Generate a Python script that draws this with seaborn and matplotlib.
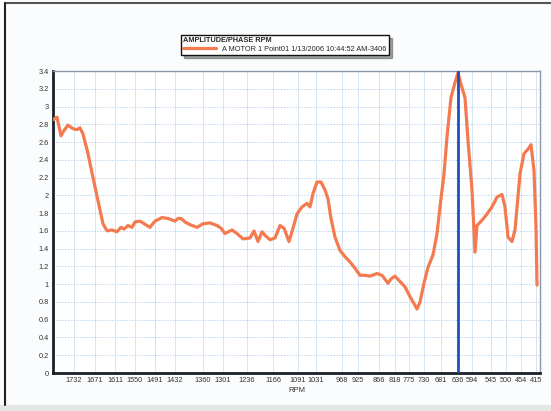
import matplotlib
matplotlib.use("Agg")
import matplotlib.pyplot as plt
import matplotlib.lines as mlines
import matplotlib.patches as mpatches
import seaborn as sns
import pandas as pd

# ---- data ----
sample = [0, 1, 4, 8, 11, 15, 20, 24, 27, 30,
          35, 40, 45, 50, 54, 59, 64, 68, 71, 75,
          79, 82, 87, 94, 97, 102, 109, 115, 122, 125,
          128, 132, 137, 144, 150, 157, 164, 168, 172, 179,
          184, 190, 197, 201, 205, 209, 212, 217, 222, 227,
          231, 236, 240, 244, 249, 254, 257, 260, 264, 268,
          272, 275, 278, 282, 287, 292, 297, 302, 307, 312,
          317, 324, 329, 335, 338, 342, 347, 352, 357, 364,
          367, 371, 375, 380, 384, 387, 391, 394, 398, 402,
          405, 408, 412, 415, 419, 422, 424, 429, 434, 439,
          444, 449, 452, 455, 459, 462, 467, 471, 475, 478,
          481, 483, 484]
amplitude = [2.85, 2.86, 2.88, 2.67, 2.73, 2.79, 2.75, 2.74, 2.76, 2.69,
             2.47, 2.20, 1.94, 1.68, 1.60, 1.61, 1.59, 1.64, 1.62, 1.66,
             1.64, 1.70, 1.71, 1.66, 1.64, 1.71, 1.75, 1.74, 1.71, 1.74,
             1.74, 1.70, 1.67, 1.64, 1.68, 1.69, 1.66, 1.63, 1.57, 1.61,
             1.57, 1.51, 1.52, 1.60, 1.48, 1.59, 1.55, 1.50, 1.52, 1.66,
             1.63, 1.48, 1.63, 1.79, 1.87, 1.91, 1.87, 2.02, 2.15, 2.15,
             2.06, 1.96, 1.74, 1.53, 1.38, 1.31, 1.25, 1.18, 1.10, 1.10,
             1.09, 1.12, 1.10, 1.01, 1.06, 1.09, 1.03, 0.97, 0.86, 0.72,
             0.80, 1.01, 1.19, 1.33, 1.57, 1.87, 2.24, 2.66, 3.10, 3.27,
             3.38, 3.25, 3.10, 2.62, 2.06, 1.36, 1.66, 1.72, 1.79, 1.87,
             1.98, 2.01, 1.87, 1.53, 1.48, 1.61, 2.24, 2.47, 2.52, 2.57,
             2.28, 1.64, 0.99]

rpm_labels = ["1732", "1671", "1611", "1550", "1491", "1432", "1360", "1301",
              "1236", "1166", "1091", "1031", "968", "925", "866", "818",
              "775", "730", "681", "636", "594", "545", "500", "454", "415"]
rpm_sample = [21, 42, 62, 82, 102, 122, 150, 170, 194, 220, 245, 263, 289,
              305, 326, 342, 356, 371, 388, 405, 419, 438, 453, 468, 483]

cursor_rpm = "636"
y_ticks = [0, 0.2, 0.4, 0.6, 0.8, 1, 1.2, 1.4, 1.6, 1.8, 2, 2.2, 2.4, 2.6,
           2.8, 3, 3.2, 3.4]

series_name = "A MOTOR 1 Point01 1/13/2006 10:44:52 AM-3406"
legend_title = "AMPLITUDE/PHASE RPM"

df = pd.DataFrame({"sample": sample, "amplitude": amplitude})

# ---- figure ----
sns.set_style("white")
plt.rcParams["font.family"] = ["Liberation Sans", "DejaVu Sans"]

fig = plt.figure(figsize=(5.51, 4.11), dpi=100, facecolor="#fbfcfd")
ax = fig.add_axes([53 / 551, 38 / 411, 487 / 551, 302 / 411])
ax.set_facecolor("white")

line_color = "#f47a50"
sns.lineplot(data=df, x="sample", y="amplitude", ax=ax, color=line_color,
             linewidth=2.3, label=series_name, zorder=3)

ax.axvline(rpm_sample[rpm_labels.index(cursor_rpm)], color="#1f4fbf",
           linewidth=2.0, zorder=4)

ax.set_xlim(0, 487)
ax.set_ylim(0, 3.4)
ax.set_yticks(y_ticks)
ax.set_yticklabels([f"{v:g}" for v in y_ticks])
ax.set_xticks(rpm_sample)
ax.set_xticklabels(rpm_labels)
ax.tick_params(axis="both", labelsize=5.3, colors="#333333", length=0, pad=3)
ax.set_xlabel("RPM", fontsize=5.5, color="#333333", labelpad=2)
ax.set_ylabel("")

ax.grid(True, axis="y", color="#b9d3ec", linestyle=(0, (1.5, 1.5)), linewidth=0.7)
ax.grid(True, axis="x", color="#cfe0f2", linestyle="-", linewidth=0.6)

for side in ["left", "bottom"]:
    ax.spines[side].set_color("#1a1f2a")
    ax.spines[side].set_linewidth(2.0)
for side in ["top", "right"]:
    ax.spines[side].set_color("#8a96a8")
    ax.spines[side].set_linewidth(1.0)

handles, labels = ax.get_legend_handles_labels()
ax.get_legend().remove()
leg = fig.legend(handles, labels, title=legend_title,
                 loc="upper left", bbox_to_anchor=(181 / 551, 1 - 35 / 411),
                 fontsize=5.3, title_fontsize=5.3, frameon=True, fancybox=False,
                 shadow=True, handlelength=4.5, borderpad=0.3,
                 labelspacing=0.2, handletextpad=0.8, borderaxespad=0)
leg._legend_box.align = "left"
leg.get_frame().set_edgecolor("#111111")
leg.get_frame().set_linewidth(1.0)
leg.get_title().set_fontweight("bold")

# outer frame of the picture: top and left edges, light band at the bottom
fig.add_artist(mlines.Line2D([5 / 551, 1], [1 - 3 / 411, 1 - 3 / 411],
                             transform=fig.transFigure, color="#555555",
                             linewidth=1.5))
fig.add_artist(mlines.Line2D([5 / 551, 5 / 551], [6 / 411, 1 - 3 / 411],
                             transform=fig.transFigure, color="#222222",
                             linewidth=1.5))
fig.patches.append(mpatches.Rectangle((0, 0), 1, 6 / 411,
                                      transform=fig.transFigure,
                                      facecolor="#e4e7e4", edgecolor="none"))

fig.savefig("out.png", dpi=100, facecolor=fig.get_facecolor())
